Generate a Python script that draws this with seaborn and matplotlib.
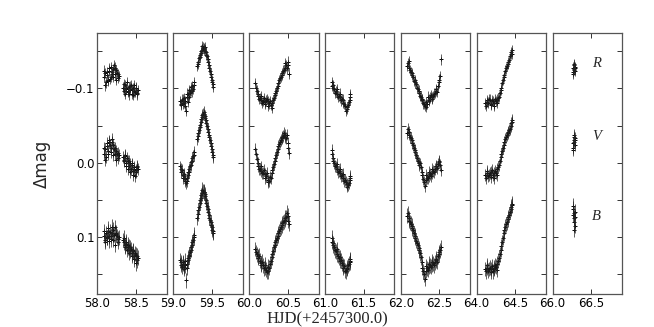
import matplotlib
matplotlib.use("Agg")
import matplotlib.pyplot as plt
import seaborn as sns
import pandas as pd

# Light curves (HJD - 2457300, delta mag), one block per night.
# Each night has two interleaved sets of readings (a and b) to get the density.
t1 = [58.080, 58.095, 58.110, 58.125, 58.140, 58.155, 58.170, 58.185, 58.200, 58.215,
      58.230, 58.245, 58.260, 58.275, 58.330, 58.345, 58.360, 58.375, 58.390, 58.405,
      58.420, 58.435, 58.450, 58.465, 58.480, 58.495, 58.510, 58.525]
r1 = [-0.115, -0.121, -0.108, -0.118, -0.112, -0.124, -0.116, -0.120, -0.126, -0.131,
      -0.119, -0.125, -0.114, -0.117, -0.101, -0.097, -0.104, -0.099, -0.095, -0.102,
      -0.098, -0.105, -0.093, -0.100, -0.096, -0.101, -0.094, -0.098]
v1 = [-0.012, -0.018, -0.008, -0.022, -0.016, -0.028, -0.020, -0.032, -0.024, -0.018,
      -0.012, -0.016, -0.006, -0.010, -0.008, -0.004, -0.009, 0.000, -0.003, 0.004,
      0.001, 0.008, 0.003, 0.011, 0.006, 0.013, 0.004, 0.009]
b1 = [0.098, 0.104, 0.095, 0.101, 0.092, 0.099, 0.103, 0.094, 0.090, 0.097,
      0.087, 0.096, 0.102, 0.100, 0.104, 0.107, 0.111, 0.106, 0.114, 0.112,
      0.118, 0.116, 0.122, 0.119, 0.126, 0.124, 0.131, 0.128]
t1b = [58.088, 58.103, 58.118, 58.133, 58.148, 58.163, 58.178, 58.193, 58.208, 58.223,
       58.238, 58.253, 58.268, 58.338, 58.353, 58.368, 58.383, 58.398, 58.413, 58.428,
       58.443, 58.458, 58.473, 58.488, 58.503, 58.518]
r1b = [-0.124, -0.104, -0.122, -0.110, -0.127, -0.113, -0.129, -0.122, -0.116, -0.128,
       -0.111, -0.121, -0.119, -0.106, -0.093, -0.100, -0.108, -0.097, -0.092, -0.103,
       -0.099, -0.091, -0.104, -0.095, -0.100, -0.092]
v1b = [-0.020, -0.004, -0.026, -0.012, -0.030, -0.024, -0.014, -0.028, -0.010, -0.020,
       -0.004, -0.012, -0.013, -0.002, -0.010, 0.005, -0.006, 0.008, -0.002, 0.012,
       0.001, 0.016, 0.008, 0.018, 0.010, 0.006]
b1b = [0.092, 0.106, 0.100, 0.088, 0.105, 0.093, 0.098, 0.086, 0.104, 0.110,
       0.094, 0.099, 0.106, 0.101, 0.113, 0.109, 0.117, 0.110, 0.121, 0.114,
       0.125, 0.118, 0.130, 0.122, 0.135, 0.125]

t2 = [59.090, 59.105, 59.120, 59.135, 59.150, 59.165, 59.180, 59.195, 59.210, 59.225,
      59.240, 59.255, 59.270, 59.310, 59.325, 59.340, 59.355, 59.370, 59.385, 59.400,
      59.415, 59.430, 59.445, 59.460, 59.475, 59.490, 59.505, 59.515]
r2 = [-0.083, -0.079, -0.086, -0.081, -0.076, -0.070, -0.088, -0.092, -0.089, -0.097,
      -0.103, -0.099, -0.108, -0.130, -0.136, -0.142, -0.148, -0.152, -0.155, -0.154,
      -0.151, -0.145, -0.139, -0.131, -0.124, -0.115, -0.108, -0.102]
v2 = [0.005, 0.012, 0.016, 0.018, 0.022, 0.027, 0.020, 0.016, 0.009, 0.003,
      -0.003, -0.009, -0.014, -0.032, -0.040, -0.048, -0.055, -0.062, -0.066, -0.065,
      -0.060, -0.053, -0.046, -0.038, -0.030, -0.022, -0.014, -0.008]
b2 = [0.131, 0.137, 0.134, 0.140, 0.138, 0.158, 0.136, 0.128, 0.124, 0.117,
      0.110, 0.104, 0.097, 0.074, 0.064, 0.054, 0.047, 0.041, 0.038, 0.040,
      0.045, 0.054, 0.062, 0.070, 0.077, 0.084, 0.090, 0.094]
t2b = [59.098, 59.113, 59.128, 59.143, 59.158, 59.173, 59.188, 59.203, 59.218, 59.233,
       59.248, 59.263, 59.318, 59.333, 59.348, 59.363, 59.378, 59.393, 59.408, 59.423,
       59.438, 59.453, 59.468, 59.483, 59.498, 59.510]
r2b = [-0.078, -0.085, -0.080, -0.087, -0.083, -0.093, -0.082, -0.098, -0.094, -0.102,
       -0.096, -0.104, -0.133, -0.141, -0.145, -0.151, -0.157, -0.153, -0.156, -0.149,
       -0.143, -0.135, -0.128, -0.120, -0.111, -0.106]
v2b = [0.009, 0.010, 0.020, 0.015, 0.025, 0.024, 0.013, 0.012, 0.005, -0.001,
       -0.006, -0.011, -0.036, -0.044, -0.051, -0.059, -0.064, -0.068, -0.063, -0.057,
       -0.050, -0.042, -0.034, -0.026, -0.018, -0.011]
b2b = [0.134, 0.140, 0.136, 0.143, 0.132, 0.141, 0.131, 0.126, 0.120, 0.113,
       0.107, 0.100, 0.069, 0.059, 0.050, 0.044, 0.036, 0.039, 0.042, 0.050,
       0.058, 0.066, 0.074, 0.080, 0.087, 0.092]

t3 = [60.08, 60.10, 60.12, 60.14, 60.16, 60.18, 60.20, 60.22, 60.24, 60.26, 60.28, 60.30,
      60.32, 60.34, 60.36, 60.38, 60.40, 60.42, 60.44, 60.46, 60.48, 60.50, 60.52]
r3 = [-0.107, -0.097, -0.090, -0.087, -0.085, -0.083, -0.082, -0.084, -0.083, -0.080, -0.078, -0.081,
      -0.087, -0.094, -0.100, -0.107, -0.114, -0.118, -0.124, -0.128, -0.131, -0.131, -0.120]
v3 = [-0.019, -0.005, 0.005, 0.008, 0.011, 0.014, 0.015, 0.018, 0.023, 0.024, 0.020, 0.010,
      0.002, -0.007, -0.015, -0.022, -0.028, -0.033, -0.036, -0.037, -0.033, -0.026, -0.013]
b3 = [0.116, 0.123, 0.128, 0.132, 0.135, 0.138, 0.141, 0.144, 0.146, 0.141, 0.132, 0.123,
      0.114, 0.107, 0.101, 0.095, 0.089, 0.084, 0.080, 0.077, 0.073, 0.071, 0.082]
t3b = [60.09, 60.11, 60.13, 60.15, 60.17, 60.19, 60.21, 60.23, 60.25, 60.27, 60.29,
       60.31, 60.33, 60.35, 60.37, 60.39, 60.41, 60.43, 60.45, 60.47, 60.49, 60.51]
r3b = [-0.100, -0.092, -0.086, -0.090, -0.081, -0.087, -0.079, -0.086, -0.077, -0.083, -0.074,
       -0.084, -0.091, -0.096, -0.103, -0.111, -0.116, -0.121, -0.125, -0.134, -0.127, -0.136]
v3b = [-0.012, 0.000, 0.009, 0.005, 0.014, 0.010, 0.020, 0.014, 0.026, 0.019, 0.014,
       0.006, -0.003, -0.011, -0.019, -0.025, -0.031, -0.035, -0.040, -0.034, -0.038, -0.020]
b3b = [0.120, 0.126, 0.125, 0.137, 0.133, 0.142, 0.137, 0.147, 0.140, 0.136, 0.127,
       0.119, 0.110, 0.104, 0.098, 0.092, 0.087, 0.081, 0.079, 0.074, 0.067, 0.078]

t4 = [61.09, 61.10, 61.12, 61.14, 61.16, 61.18, 61.20, 61.22, 61.24, 61.26, 61.28, 61.30, 61.32, 61.33]
r4 = [-0.108, -0.105, -0.099, -0.096, -0.093, -0.090, -0.088, -0.086, -0.081, -0.076, -0.072, -0.078, -0.085, -0.089]
v4 = [-0.017, -0.007, 0.001, 0.005, 0.008, 0.011, 0.014, 0.017, 0.020, 0.023, 0.029, 0.030, 0.023, 0.018]
b4 = [0.101, 0.108, 0.114, 0.119, 0.123, 0.128, 0.132, 0.135, 0.141, 0.145, 0.143, 0.138, 0.134, 0.132]
t4b = [61.095, 61.11, 61.13, 61.15, 61.17, 61.19, 61.21, 61.23, 61.25, 61.27, 61.29, 61.31, 61.325]
r4b = [-0.103, -0.101, -0.094, -0.099, -0.089, -0.093, -0.084, -0.085, -0.079, -0.070, -0.075, -0.082, -0.092]
v4b = [-0.012, -0.003, 0.004, 0.002, 0.012, 0.009, 0.018, 0.015, 0.024, 0.026, 0.032, 0.027, 0.021]
b4b = [0.106, 0.111, 0.118, 0.116, 0.125, 0.127, 0.131, 0.138, 0.139, 0.146, 0.141, 0.136, 0.130]

t5 = [62.08, 62.10, 62.12, 62.14, 62.16, 62.18, 62.20, 62.22, 62.24, 62.26, 62.28, 62.30,
      62.32, 62.34, 62.36, 62.38, 62.40, 62.42, 62.44, 62.46, 62.48, 62.50, 62.515]
r5 = [-0.130, -0.137, -0.125, -0.121, -0.115, -0.111, -0.106, -0.099, -0.094, -0.089, -0.085, -0.079,
      -0.075, -0.079, -0.085, -0.088, -0.086, -0.090, -0.094, -0.097, -0.103, -0.112, -0.139]
v5 = [-0.040, -0.042, -0.035, -0.030, -0.024, -0.017, -0.010, -0.003, 0.003, 0.006, 0.017, 0.026,
      0.023, 0.020, 0.018, 0.015, 0.014, 0.011, 0.008, 0.005, 0.002, -0.001, 0.010]
b5 = [0.071, 0.075, 0.080, 0.085, 0.091, 0.098, 0.105, 0.111, 0.118, 0.127, 0.141, 0.150,
      0.145, 0.142, 0.140, 0.138, 0.137, 0.135, 0.134, 0.131, 0.126, 0.123, 0.114]
t5b = [62.09, 62.11, 62.13, 62.15, 62.17, 62.19, 62.21, 62.23, 62.25, 62.27, 62.29,
       62.31, 62.33, 62.35, 62.37, 62.39, 62.41, 62.43, 62.45, 62.47, 62.49, 62.505]
r5b = [-0.134, -0.128, -0.122, -0.118, -0.110, -0.108, -0.101, -0.097, -0.090, -0.086, -0.080,
       -0.077, -0.082, -0.089, -0.083, -0.091, -0.088, -0.093, -0.099, -0.095, -0.108, -0.117]
v5b = [-0.045, -0.038, -0.033, -0.027, -0.020, -0.014, -0.007, 0.000, 0.001, 0.012, 0.022,
       0.031, 0.017, 0.021, 0.012, 0.018, 0.009, 0.013, 0.004, 0.007, -0.003, 0.003]
b5b = [0.068, 0.078, 0.082, 0.088, 0.095, 0.101, 0.108, 0.115, 0.122, 0.134, 0.146,
       0.156, 0.139, 0.144, 0.136, 0.140, 0.133, 0.138, 0.129, 0.133, 0.120, 0.118]

t6 = [64.11, 64.13, 64.15, 64.17, 64.19, 64.21, 64.23, 64.25, 64.27, 64.29,
      64.31, 64.33, 64.35, 64.37, 64.39, 64.41, 64.43, 64.45, 64.46]
r6 = [-0.080, -0.084, -0.081, -0.085, -0.079, -0.083, -0.080, -0.083, -0.085, -0.089,
      -0.098, -0.107, -0.115, -0.124, -0.130, -0.135, -0.143, -0.149, -0.147]
v6 = [0.017, 0.014, 0.018, 0.014, 0.012, 0.017, 0.014, 0.014, 0.009, 0.003,
      -0.008, -0.016, -0.024, -0.032, -0.037, -0.042, -0.046, -0.053, -0.058]
b6 = [0.143, 0.141, 0.145, 0.141, 0.143, 0.146, 0.141, 0.140, 0.136, 0.128,
      0.117, 0.107, 0.095, 0.086, 0.080, 0.073, 0.066, 0.059, 0.055]
t6b = [64.12, 64.14, 64.16, 64.18, 64.20, 64.22, 64.24, 64.26, 64.28, 64.30,
       64.32, 64.34, 64.36, 64.38, 64.40, 64.42, 64.44, 64.455]
r6b = [-0.077, -0.082, -0.086, -0.078, -0.084, -0.077, -0.086, -0.081, -0.087, -0.094,
       -0.101, -0.112, -0.118, -0.127, -0.133, -0.138, -0.146, -0.152]
v6b = [0.020, 0.011, 0.016, 0.019, 0.010, 0.020, 0.011, 0.017, 0.006, -0.003,
       -0.012, -0.020, -0.028, -0.034, -0.040, -0.044, -0.050, -0.055]
b6b = [0.146, 0.138, 0.143, 0.147, 0.139, 0.143, 0.138, 0.144, 0.132, 0.123,
       0.112, 0.101, 0.091, 0.083, 0.076, 0.070, 0.062, 0.057]

t7 = [66.265, 66.270, 66.275, 66.280, 66.285, 66.290, 66.295]
r7 = [-0.122, -0.128, -0.125, -0.131, -0.126, -0.129, -0.124]
v7 = [-0.020, -0.026, -0.031, -0.035, -0.028, -0.033, -0.024]
b7 = [0.062, 0.070, 0.075, 0.068, 0.080, 0.073, 0.085]
t7b = [66.268, 66.278, 66.288]
r7b = [-0.120, -0.133, -0.127]
v7b = [-0.017, -0.038, -0.030]
b7b = [0.058, 0.090, 0.066]

nights = [58.0, 59.0, 60.0, 61.0, 62.0, 64.0, 66.0]
bands = ["R", "V", "B"]
band_err = {"R": 0.007, "V": 0.008, "B": 0.010}
band_label_y = {"R": -0.134, "V": -0.035, "B": 0.072}

curves = [
    [(t1, r1, v1, b1), (t1b, r1b, v1b, b1b)],
    [(t2, r2, v2, b2), (t2b, r2b, v2b, b2b)],
    [(t3, r3, v3, b3), (t3b, r3b, v3b, b3b)],
    [(t4, r4, v4, b4), (t4b, r4b, v4b, b4b)],
    [(t5, r5, v5, b5), (t5b, r5b, v5b, b5b)],
    [(t6, r6, v6, b6), (t6b, r6b, v6b, b6b)],
    [(t7, r7, v7, b7), (t7b, r7b, v7b, b7b)],
]


def build_frame():
    rows = []
    for night, sets in zip(nights, curves):
        for t, r, v, b in sets:
            for band, mags in zip(bands, (r, v, b)):
                for ti, mi in zip(t, mags):
                    rows.append({"night": night, "band": band, "hjd": ti, "dmag": mi,
                                 "err": band_err[band]})
    return pd.DataFrame(rows)


def make_plot():
    df = build_frame()

    sns.set_theme(style="ticks")
    plt.rcParams["font.family"] = ["DejaVu Sans"]
    plt.rcParams["xtick.direction"] = "in"
    plt.rcParams["ytick.direction"] = "in"

    fig, axes = plt.subplots(1, 7, figsize=(6.54, 3.27), dpi=100, sharey=True)
    fig.subplots_adjust(left=0.149, right=0.951, bottom=0.100, top=0.900, wspace=0.092)

    for ax, night in zip(axes, nights):
        sub = df[df["night"] == night]
        ax.errorbar(sub["hjd"], sub["dmag"], yerr=sub["err"], fmt="none",
                    ecolor="#222222", elinewidth=0.5, capsize=0)
        sns.scatterplot(data=sub, x="hjd", y="dmag", ax=ax, marker="+", s=12,
                        color="black", linewidth=0.7, legend=False)
        ax.set_xlim(night, night + 0.9)
        ax.set_xticks([night, night + 0.5])
        ax.set_xticklabels([f"{night:.1f}", f"{night + 0.5:.1f}"])
        ax.set_xlabel("")
        ax.set_ylabel("")
        ax.tick_params(axis="both", which="both", direction="in", top=True, right=True,
                       length=3.5, width=0.7, labelsize=8.5, pad=2, colors="#333333",
                       labelcolor="black")
        for sp in ax.spines.values():
            sp.set_visible(True)
            sp.set_color("#555555")
            sp.set_linewidth(0.9)

    axes[0].set_ylim(0.177, -0.175)
    axes[0].set_yticks([-0.15, -0.1, -0.05, 0.0, 0.05, 0.1, 0.15])
    axes[0].set_yticklabels(["", "\u22120.1", "", "0.0", "", "0.1", ""])
    for ax in axes[1:]:
        ax.tick_params(labelleft=False)

    for band in bands:
        axes[-1].text(66.57, band_label_y[band], band, fontsize=10.5, style="italic",
                      family="Liberation Serif", ha="center", va="center")

    fig.text(0.064, 0.5, "\u0394mag", rotation=90, fontsize=12, ha="center", va="center")
    fig.text(0.5, 0.022, "HJD(+2457300.0)", fontsize=12, family="Liberation Serif",
             ha="center", va="center")

    fig.savefig("out.png", dpi=100)
    plt.close(fig)


if __name__ == "__main__":
    make_plot()
